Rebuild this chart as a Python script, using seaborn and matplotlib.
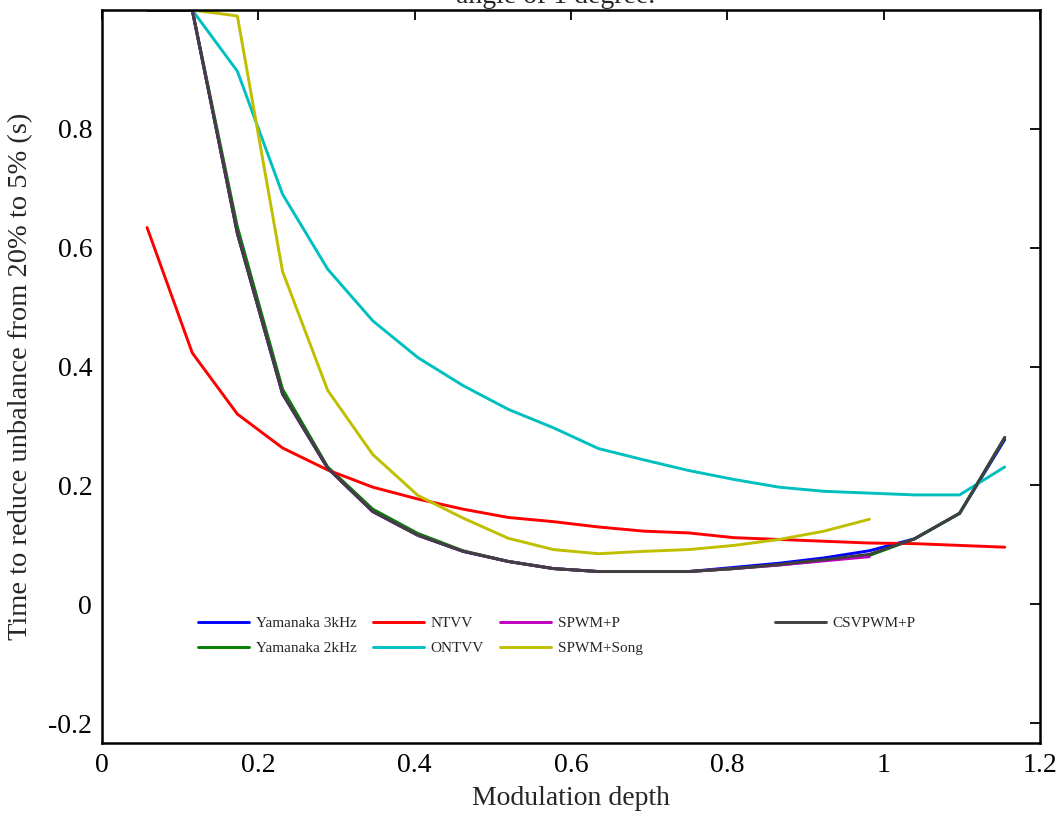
import numpy as np
import pandas as pd
import matplotlib
matplotlib.use("Agg")
import matplotlib.pyplot as plt
import seaborn as sns

# Modulation depth grid (k * 0.0577)
step = 0.05774
x_all = [round(k * step, 4) for k in range(1, 21)]

yam3 = [1.0, 1.0, 0.625, 0.354, 0.229, 0.156, 0.116, 0.089, 0.072, 0.060,
        0.055, 0.055, 0.055, 0.062, 0.069, 0.078, 0.090, 0.110, 0.153, 0.277]
yam2 = [1.0, 1.0, 0.635, 0.362, 0.231, 0.160, 0.119, 0.090, 0.072, 0.060,
        0.055, 0.055, 0.055, 0.060, 0.066, 0.074, 0.082, 0.110, 0.153, 0.280]
ntvv = [0.634, 0.423, 0.320, 0.263, 0.226, 0.197, 0.177, 0.160, 0.146, 0.139,
        0.130, 0.123, 0.120, 0.112, 0.109, 0.106, 0.103, 0.102, 0.099, 0.096]
ontvv = [None, 1.0, 0.897, 0.690, 0.564, 0.477, 0.415, 0.368, 0.328, 0.297,
         0.262, 0.243, 0.225, 0.210, 0.197, 0.190, 0.187, 0.184, 0.184, 0.231]
spwm_p = [1.0, 1.0, 0.625, 0.354, 0.229, 0.156, 0.116, 0.089, 0.072, 0.060,
          0.055, 0.055, 0.055, 0.060, 0.066, 0.073, 0.080]
spwm_song = [None, 1.0, 0.990, 0.560, 0.360, 0.252, 0.183, 0.145, 0.111, 0.092,
             0.085, 0.089, 0.092, 0.099, 0.109, 0.123, 0.143]
csvpwm_p = [1.0, 1.0, 0.623, 0.354, 0.229, 0.156, 0.116, 0.089, 0.072, 0.060,
            0.055, 0.055, 0.055, 0.060, 0.067, 0.075, 0.084, 0.110, 0.153, 0.281]

series_names = ["Yamanaka 3kHz", "Yamanaka 2kHz", "NTVV", "ONTVV",
                "SPWM+P", "SPWM+Song", "CSVPWM+P"]
series_vals = [yam3, yam2, ntvv, ontvv, spwm_p, spwm_song, csvpwm_p]
colors = ["#0000ff", "#008000", "#ff0000", "#00bfbf", "#bf00bf", "#bfbf00", "#404040"]

x_ticks = [0, 0.2, 0.4, 0.6, 0.8, 1.0, 1.2]
x_ticklabels = ["0", "0.2", "0.4", "0.6", "0.8", "1", "1.2"]
y_ticks = [-0.2, 0, 0.2, 0.4, 0.6, 0.8]
y_ticklabels = ["-0.2", "0", "0.2", "0.4", "0.6", "0.8"]

rows = []
for name, vals in zip(series_names, series_vals):
    for xv, yv in zip(x_all, vals):
        if yv is not None:
            rows.append({"Modulation depth": xv, "value": yv, "series": name})
df = pd.DataFrame(rows)

sns.set_theme(style="white")
plt.rcParams["font.family"] = ["Liberation Serif", "DejaVu Serif"]

fig = plt.figure(figsize=(10.6, 8.15), dpi=100)
ax = fig.add_axes([0.0962, 0.0883, 0.8850, 0.8994])

palette = dict(zip(series_names, colors))
for name in series_names:
    sub = df[df["series"] == name]
    sns.lineplot(data=sub, x="Modulation depth", y="value", color=palette[name],
                 linewidth=2.1, ax=ax, label=name, sort=False, estimator=None)

ax.set_xlim(0, 1.2)
ax.set_ylim(-0.2336, 1.0)
ax.set_xticks(x_ticks)
ax.set_xticklabels(x_ticklabels)
ax.set_yticks(y_ticks)
ax.set_yticklabels(y_ticklabels)
ax.tick_params(direction="in", length=7, width=1.3, top=True, right=True,
               labelsize=20, pad=7, colors="black")
for sp in ax.spines.values():
    sp.set_visible(True)
    sp.set_linewidth(1.8)
    sp.set_color("black")

ax.set_xlabel("Modulation depth", fontsize=20, labelpad=6)
ax.set_ylabel("Time to reduce unbalance from 20% to 5% (s)", fontsize=20.5)
ax.yaxis.set_label_coords(-0.0735, 0.5)

fig.text(0.5245, 1 - 3 / 815, "angle of 1 degree.", ha="center", va="baseline",
         fontsize=20)

handles, labels = ax.get_legend_handles_labels()
hmap = dict(zip(labels, handles))
first = ["Yamanaka 3kHz", "Yamanaka 2kHz", "NTVV", "ONTVV", "SPWM+P", "SPWM+Song"]
leg_kw = dict(frameon=False, loc="upper left", fontsize=11, handlelength=3.3,
              handletextpad=0.45, columnspacing=1.1, labelspacing=0.75)
leg1 = ax.legend([hmap[l] for l in first], first, ncol=3,
                 bbox_to_anchor=(0.088, 0.1917), **leg_kw)
ax.add_artist(leg1)
ax.legend([hmap["CSVPWM+P"]], ["CSVPWM+P"], ncol=1,
          bbox_to_anchor=(0.703, 0.1917), **leg_kw)

fig.savefig("out.png", dpi=100)
